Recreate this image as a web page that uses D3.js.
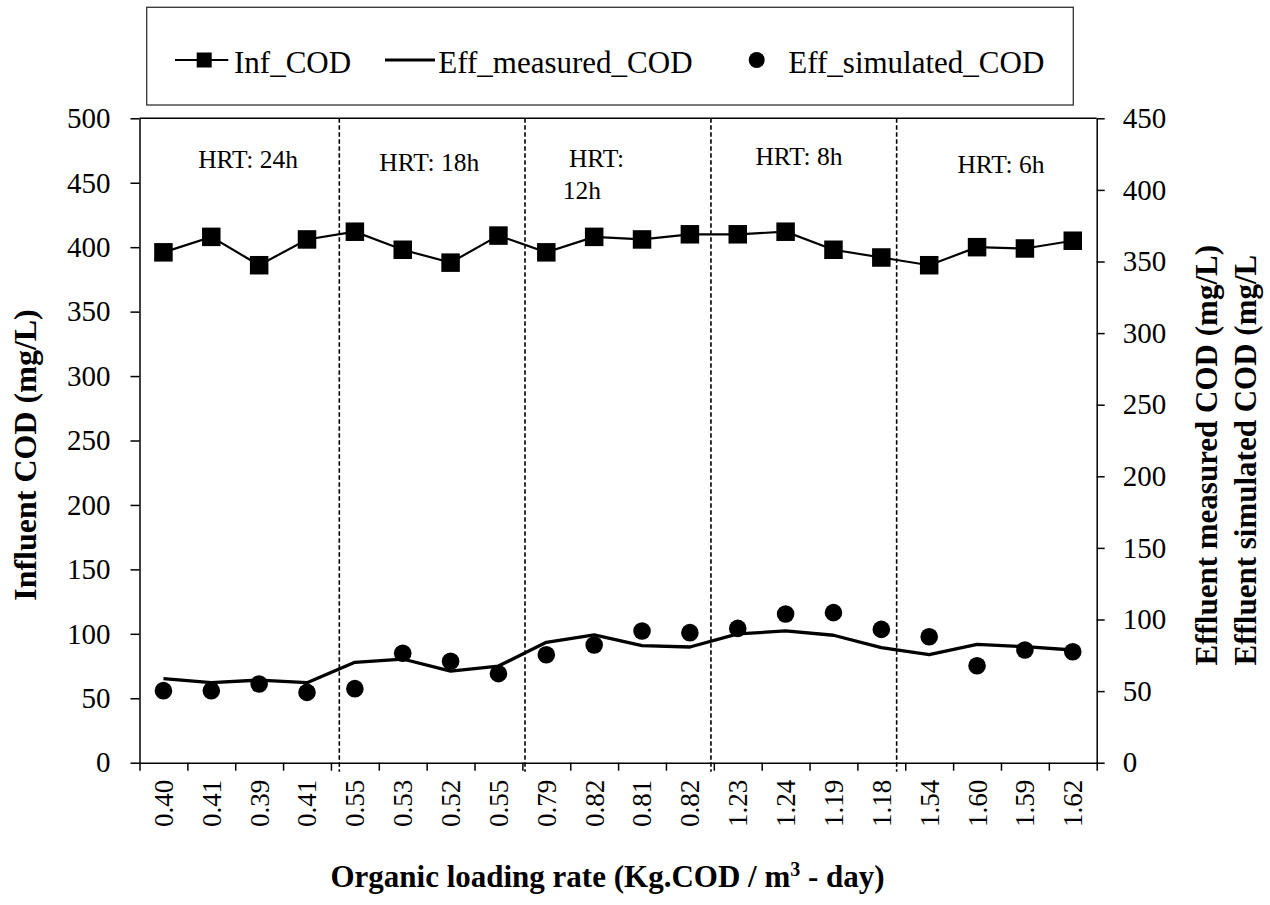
<!DOCTYPE html>
<html><head><meta charset="utf-8">
<script src="https://cdn.jsdelivr.net/npm/d3@7"></script>
<style>
body{margin:0;background:#fff}
svg{display:block}
svg text{font-family:"Liberation Serif","Times New Roman",serif !important;fill:#000}
</style>
</head><body>
<svg id="c" width="1270" height="905"></svg>
<script>
// ---------- data ----------
const categories = ["0.40","0.41","0.39","0.41","0.55","0.53","0.52","0.55","0.79","0.82","0.81","0.82","1.23","1.24","1.19","1.18","1.54","1.60","1.59","1.62"];
const infCOD = [396, 408, 386, 406, 412, 398, 388, 409, 396, 408, 406, 410, 410, 412, 398, 392, 386, 400, 399, 405];
const effMeasured = [58.7, 55.9, 57.7, 55.9, 70.1, 72.4, 64.0, 67.5, 84.1, 89.2, 81.7, 80.8, 89.9, 92.0, 89.0, 80.3, 75.4, 82.7, 81.0, 78.7];
const effSimulated = [50.3, 50.3, 55.0, 49.1, 51.7, 76.4, 70.8, 62.2, 75.4, 82.2, 92.0, 90.8, 93.8, 103.8, 104.8, 93.1, 88.0, 67.7, 78.7, 77.5];
const leftTicks = [0, 50, 100, 150, 200, 250, 300, 350, 400, 450, 500];
const rightTicks = [0, 50, 100, 150, 200, 250, 300, 350, 400, 450];
const hrtBreaks = [4.175, 8.055, 11.94, 15.82];          // in category units
const hrtText = ["HRT: 24h", "HRT: 18h", "HRT:", "12h", "HRT: 8h", "HRT: 6h"];
const hrtAt = [2.27, 6.055, 9.55, 9.245, 13.78, 18.0];       // category units
const hrtLevel = [461.2, 459.1, 462.4, 437.2, 463.8, 457.3]; // left-axis units
const legendNames = ["Inf_COD", "Eff_measured_COD", "Eff_simulated_COD"];

// ---------- layout ----------
const FONT = '"Liberation Serif","Times New Roman",serif';
const M = {left: 139.5, right: 1096.7, top: 118.3, bottom: 762.7};
const svg = d3.select("#c");
const idx = d3.range(categories.length);
const x = d3.scaleBand().domain(idx).range([M.left, M.right]);
const xLin = d3.scaleLinear().domain([0, categories.length]).range([M.left, M.right]);
const yL = d3.scaleLinear().domain([0, 500]).range([M.bottom, M.top]);
const yR = d3.scaleLinear().domain([0, 450]).range([M.bottom, M.top]);
const cx = i => x(i) + x.bandwidth() / 2;

// top border
svg.append("line").attr("x1", M.left).attr("x2", M.right).attr("y1", M.top).attr("y2", M.top)
  .attr("stroke", "#000").attr("stroke-width", 1.5);

// HRT separators
svg.append("g").selectAll("line").data(hrtBreaks).join("line")
  .attr("x1", d => xLin(d)).attr("x2", d => xLin(d))
  .attr("y1", M.top).attr("y2", M.bottom + 9)
  .attr("stroke", "#000").attr("stroke-width", 1.6).attr("stroke-dasharray", "4.5,2.5");

// left axis
const gL = svg.append("g").attr("transform", `translate(${M.left},0)`)
  .call(d3.axisLeft(yL).tickValues(leftTicks).tickSize(9).tickSizeOuter(0).tickPadding(20));
// right axis
const gR = svg.append("g").attr("transform", `translate(${M.right},0)`)
  .call(d3.axisRight(yR).tickValues(rightTicks).tickSize(8).tickSizeOuter(0).tickPadding(18));
[gL, gR].forEach(g => {
  g.attr("font-family", FONT);
  g.selectAll("path,line").attr("stroke", "#000").attr("stroke-width", 1.5);
  g.selectAll("text").style("font-size", "29px").attr("fill", "#000");
});
// bottom axis ticks at band edges
const gB = svg.append("g").attr("transform", `translate(0,${M.bottom})`)
  .call(d3.axisBottom(xLin).tickValues(d3.range(categories.length + 1)).tickFormat("").tickSize(8).tickSizeOuter(0));
gB.selectAll("path,line").attr("stroke", "#000").attr("stroke-width", 1.5);
// bottom labels
const gBL = svg.append("g").attr("transform", `translate(0,${M.bottom})`)
  .call(d3.axisBottom(x).tickFormat(i => categories[i]).tickSize(0));
gBL.attr("font-family", FONT);
gBL.select(".domain").remove();
gBL.selectAll("text")
  .style("font-size", "27px")
  .attr("text-anchor", "end")
  .attr("transform", "rotate(-90)")
  .attr("x", -17).attr("y", 0).attr("dy", "0.35em");

// Influent line + squares
const lineL = d3.line().x((d, i) => cx(i)).y(d => yL(d));
svg.append("path").datum(infCOD).attr("d", lineL)
  .attr("fill", "none").attr("stroke", "#000").attr("stroke-width", 2.2);
const sq = 18.5;
svg.append("g").selectAll("rect").data(infCOD).join("rect")
  .attr("x", (d, i) => cx(i) - sq / 2).attr("y", d => yL(d) - sq / 2)
  .attr("width", sq).attr("height", sq).attr("fill", "#000");

// Effluent measured line
const lineR = d3.line().x((d, i) => cx(i)).y(d => yR(d));
svg.append("path").datum(effMeasured).attr("d", lineR)
  .attr("fill", "none").attr("stroke", "#000").attr("stroke-width", 3.3).attr("stroke-linejoin", "round");
// Effluent simulated dots
svg.append("g").selectAll("circle").data(effSimulated).join("circle")
  .attr("cx", (d, i) => cx(i)).attr("cy", d => yR(d)).attr("r", 8.8).attr("fill", "#000");

// HRT labels
svg.append("g").selectAll("text").data(hrtText).join("text")
  .attr("x", (d, i) => xLin(hrtAt[i])).attr("y", (d, i) => yL(hrtLevel[i]))
  .attr("text-anchor", "middle").style("font-size", "25.5px").text(d => d);

// axis titles
svg.append("text").attr("transform", "rotate(-90)")
  .attr("x", -455).attr("y", 36).attr("text-anchor", "middle")
  .style("font-size", "32px").style("font-weight", "bold").text("Influent COD (mg/L)");
const rt = svg.append("g");
const rt1 = rt.append("text").attr("transform", "rotate(-90)").attr("x", -245).attr("y", 1217)
  .attr("text-anchor", "end").style("font-size", "31px").style("font-weight", "bold")
  .text("Effluent measured COD (mg/L)");
const rtStart = -245 - rt1.node().getComputedTextLength();
rt.append("text").attr("transform", "rotate(-90)").attr("x", rtStart).attr("y", 1256)
  .attr("text-anchor", "start").style("font-size", "31px").style("font-weight", "bold")
  .text("Effluent simulated COD (mg/L");
const xt = svg.append("text").attr("x", 607.5).attr("y", 887).attr("text-anchor", "middle")
  .style("font-size", "31px").style("font-weight", "bold");
xt.append("tspan").text("Organic loading rate (Kg.COD / m");
xt.append("tspan").attr("dy", -11).style("font-size", "20px").text("3");
xt.append("tspan").attr("dy", 11).text(" - day)");

// legend
const lg = svg.append("g");
lg.append("rect").attr("x", 146.7).attr("y", 7.3).attr("width", 926.6).attr("height", 97.7)
  .attr("fill", "none").attr("stroke", "#333").attr("stroke-width", 1.3);
const ly = 60;
lg.append("line").attr("x1", 175).attr("x2", 228.3).attr("y1", ly).attr("y2", ly).attr("stroke", "#000").attr("stroke-width", 2.2);
lg.append("rect").attr("x", 196.7).attr("y", ly - 7.5).attr("width", 15).attr("height", 15).attr("fill", "#000");
lg.append("line").attr("x1", 385).attr("x2", 435).attr("y1", ly).attr("y2", ly).attr("stroke", "#000").attr("stroke-width", 3);
lg.append("circle").attr("cx", 756.7).attr("cy", ly).attr("r", 8).attr("fill", "#000");
const lx = [234, 438.3, 788.3];
lg.selectAll("text.lt").data(legendNames).join("text").attr("class", "lt")
  .attr("x", (d, i) => lx[i]).attr("y", 73.3).style("font-size", "31px").text(d => d);
</script>
</body></html>
